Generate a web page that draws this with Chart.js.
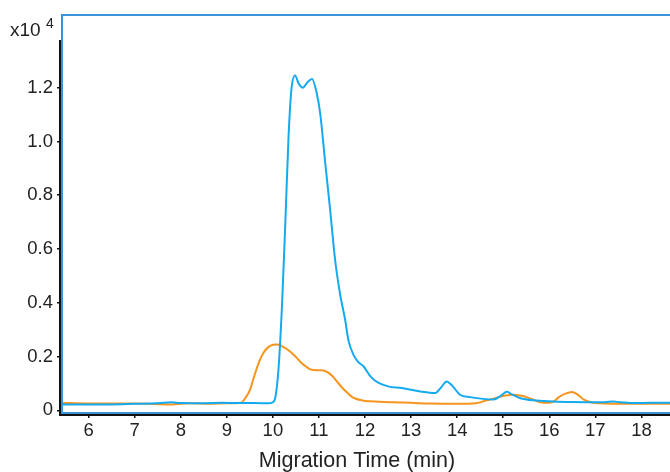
<!DOCTYPE html>
<html>
<head>
<meta charset="utf-8">
<script src="https://cdn.jsdelivr.net/npm/chart.js@4.4.1/dist/chart.umd.min.js"></script>
<style>
  html, body { margin: 0; padding: 0; background: #fff; overflow: hidden; }
  #wrap { width: 670px; height: 472px; }
</style>
</head>
<body>
<div id="wrap"><canvas id="ce"></canvas></div>
<script>
// migration time (min) and signal (x10^4)
const blueTimes = [5.4, 6.0, 6.5, 7.0, 7.5, 7.8, 8.0, 8.5, 8.9, 9.2, 9.6, 9.9, 10.0, 10.05, 10.12, 10.2, 10.27, 10.34, 10.4, 10.48, 10.56, 10.65, 10.75, 10.85, 10.95, 11.03, 11.13, 11.24, 11.35, 11.46, 11.57, 11.64, 11.75, 11.85, 11.97, 12.1, 12.22, 12.5, 12.8, 13.2, 13.52, 13.65, 13.77, 13.9, 14.06, 14.28, 14.79, 14.95, 15.08, 15.2, 15.36, 15.65, 16.09, 16.52, 16.95, 17.2, 17.39, 17.53, 17.82, 18.2, 18.62];
const blueValues = [0.022, 0.022, 0.022, 0.024, 0.026, 0.030, 0.027, 0.026, 0.028, 0.027, 0.027, 0.026, 0.030, 0.046, 0.15, 0.40, 0.70, 1.02, 1.19, 1.245, 1.215, 1.20, 1.22, 1.232, 1.18, 1.10, 0.93, 0.75, 0.56, 0.43, 0.335, 0.26, 0.206, 0.18, 0.163, 0.13, 0.110, 0.089, 0.083, 0.070, 0.064, 0.085, 0.107, 0.090, 0.058, 0.049, 0.040, 0.055, 0.069, 0.058, 0.046, 0.037, 0.033, 0.031, 0.030, 0.030, 0.033, 0.030, 0.027, 0.028, 0.028];
const orangeTimes = [5.4, 6.0, 7.0, 7.8, 8.2, 8.6, 9.0, 9.3, 9.4, 9.5, 9.6, 9.7, 9.8, 9.9, 10.0, 10.1, 10.2, 10.3, 10.4, 10.5, 10.6, 10.7, 10.8, 10.9, 11.0, 11.1, 11.2, 11.3, 11.4, 11.5, 11.6, 11.7, 11.8, 11.9, 12.0, 12.3, 12.6, 13.0, 13.4, 14.0, 14.4, 14.6, 14.8, 15.0, 15.2, 15.4, 15.6, 15.8, 16.0, 16.1, 16.2, 16.35, 16.5, 16.6, 16.75, 16.9, 17.0, 17.5, 18.62];
const orangeValues = [0.028, 0.025, 0.025, 0.022, 0.026, 0.024, 0.026, 0.028, 0.045, 0.075, 0.13, 0.18, 0.215, 0.235, 0.244, 0.245, 0.238, 0.228, 0.215, 0.198, 0.18, 0.165, 0.153, 0.150, 0.149, 0.148, 0.140, 0.126, 0.105, 0.085, 0.068, 0.052, 0.043, 0.038, 0.035, 0.032, 0.030, 0.028, 0.025, 0.024, 0.026, 0.035, 0.044, 0.053, 0.058, 0.054, 0.043, 0.030, 0.028, 0.033, 0.048, 0.062, 0.068, 0.060, 0.040, 0.030, 0.027, 0.024, 0.024];
const xTicks = [6, 7, 8, 9, 10, 11, 12, 13, 14, 15, 16, 17, 18];
const yTicks = [0, 0.2, 0.4, 0.6, 0.8, 1.0, 1.2];

const FONT = '"Liberation Sans", Arial, sans-serif';

function toPoints(xs, ys) {
  return xs.map((x, i) => ({ x: x, y: ys[i] }));
}

// box, black axes and titles
const frame = {
  id: 'frame',
  afterDraw(chart) {
    const c = chart.ctx, a = chart.chartArea;
    c.save();
    c.strokeStyle = '#3b92d8';
    c.lineWidth = 2;
    c.beginPath();
    c.moveTo(a.right + 2, a.top);
    c.lineTo(a.left + 1, a.top);
    c.lineTo(a.left + 1, a.bottom);
    c.lineTo(a.right + 2, a.bottom);
    c.stroke();

    c.strokeStyle = '#111';
    c.lineWidth = 2;
    c.beginPath();
    c.moveTo(a.left - 1, 40);
    c.lineTo(a.left - 1, a.bottom + 2);
    c.lineTo(a.right + 2, a.bottom + 2);
    c.stroke();

    c.fillStyle = '#222';
    c.font = '21.5px ' + FONT;
    c.textAlign = 'center';
    c.textBaseline = 'middle';
    c.fillText('Migration Time (min)', 357, 461);

    c.font = '19px ' + FONT;
    c.textAlign = 'left';
    c.fillText('x10', 10, 31);
    c.font = '14px ' + FONT;
    c.fillText('4', 46, 24);
    c.restore();
  }
};

new Chart(document.getElementById('ce'), {
  type: 'line',
  data: {
    datasets: [{
      label: 'blue',
      data: toPoints(blueTimes, blueValues),
      borderColor: '#14aaf0',
      borderWidth: 2,
      pointRadius: 0,
      cubicInterpolationMode: 'monotone'
    }, {
      label: 'orange',
      data: toPoints(orangeTimes, orangeValues),
      borderColor: '#f7941d',
      borderWidth: 2,
      pointRadius: 0,
      cubicInterpolationMode: 'monotone'
    }]
  },
  options: {
    responsive: true,
    maintainAspectRatio: false,
    animation: false,
    layout: { padding: { top: 13, right: 0, left: 0, bottom: 0 } },
    plugins: { legend: { display: false }, tooltip: { enabled: false } },
    scales: {
      x: {
        type: 'linear',
        min: 5.4,
        max: 18.62,
        afterBuildTicks: s => { s.ticks = xTicks.map(v => ({ value: v })); },
        afterFit: s => { s.height = 59; },
        border: { display: false },
        grid: { drawOnChartArea: false, drawTicks: true, tickLength: 5, color: '#111', lineWidth: 1.5 },
        ticks: { color: '#222', font: { size: 18.5, family: FONT }, padding: 2, maxRotation: 0, autoSkip: false }
      },
      y: {
        min: -0.01,
        max: 1.47,
        afterBuildTicks: s => { s.ticks = yTicks.map(v => ({ value: v })); },
        afterFit: s => { s.width = 61; },
        border: { display: false },
        grid: { drawOnChartArea: false, drawTicks: true, tickLength: 4, color: '#111', lineWidth: 1.5 },
        ticks: {
          color: '#222',
          font: { size: 18.5, family: FONT },
          padding: 4,
          callback: v => (v === 0 ? '0' : v.toFixed(1))
        }
      }
    }
  },
  plugins: [frame]
});
</script>
</body>
</html>
